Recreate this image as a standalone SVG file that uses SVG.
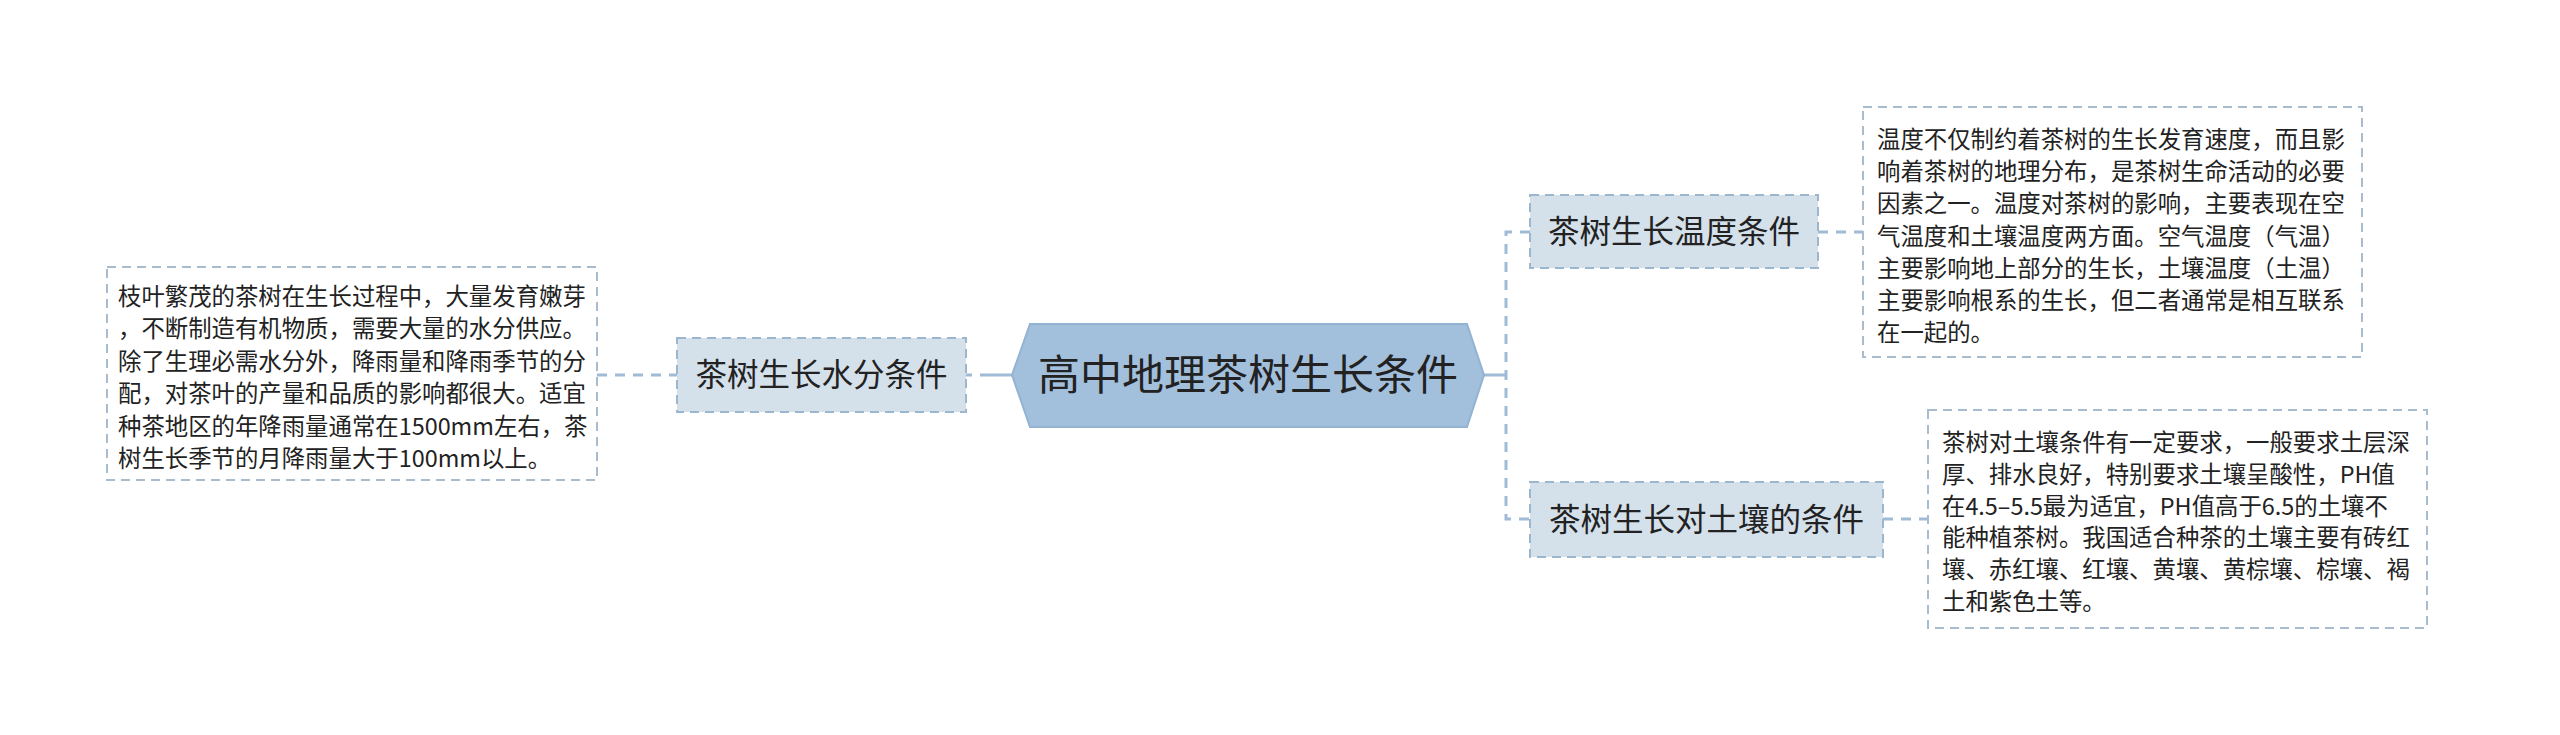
<svg xmlns="http://www.w3.org/2000/svg" width="2560" height="735" viewBox="0 0 2560 735">
<style>
text{font-family:"Noto Sans CJK SC","Noto Sans",sans-serif;fill:#222}
.root{fill:#a2bfdc;stroke:#93b3d3;stroke-width:2}
.sub{fill:#d4e0ea;stroke:#9cb6ce;stroke-width:2;stroke-dasharray:9 6}
.box{fill:#ffffff;stroke:#a9bccd;stroke-width:2;stroke-dasharray:9 6}
.c{fill:none;stroke:#9fbbd6;stroke-width:3}
.cd{fill:none;stroke:#9fbbd6;stroke-width:3;stroke-dasharray:10 8}
.t23{font-size:23.4px}
.t31{font-size:31.5px}
</style>
<rect width="2560" height="735" fill="#ffffff"/>
<g id="connectors">
<path class="c" d="M966 375 L972 375 M980 375 L1012 375"/>
<path class="cd" d="M597 375 L677 375"/>
<path class="c" d="M1484 375 L1506 375"/>
<path class="cd" d="M1530 232 L1506 232 L1506 519 L1530 519"/>
<path class="cd" d="M1818 232 L1863 232"/>
<path class="cd" d="M1883 519 L1928 519"/>
</g>
<g id="root">
<polygon class="root" points="1012,375 1030,324 1467,324 1484,375 1467,427 1030,427"/>
<text x="1248" y="390" font-size="42" text-anchor="middle">高中地理茶树生长条件</text>
</g>
<g id="water">
<rect class="sub" x="677" y="338" width="289" height="74"/>
<text class="t31" x="821.5" y="386" text-anchor="middle">茶树生长水分条件</text>
</g>
<g id="water-text">
<rect class="box" x="107" y="267" width="490" height="213"/>
<text class="t23" x="118" y="305">枝叶繁茂的茶树在生长过程中，大量发育嫩芽</text>
<text class="t23" x="118" y="337.4">，不断制造有机物质，需要大量的水分供应。</text>
<text class="t23" x="118" y="369.8">除了生理必需水分外，降雨量和降雨季节的分</text>
<text class="t23" x="118" y="402.2">配，对茶叶的产量和品质的影响都很大。适宜</text>
<text class="t23" x="118" y="434.6">种茶地区的年降雨量通常在1500mm左右，茶</text>
<text class="t23" x="118" y="467">树生长季节的月降雨量大于100mm以上。</text>
</g>
<g id="temp">
<rect class="sub" x="1530" y="195" width="288" height="73"/>
<text class="t31" x="1674" y="242.5" text-anchor="middle">茶树生长温度条件</text>
</g>
<g id="temp-text">
<rect class="box" x="1863" y="107" width="499" height="250"/>
<text class="t23" x="1877" y="148">温度不仅制约着茶树的生长发育速度，而且影</text>
<text class="t23" x="1877" y="180.2">响着茶树的地理分布，是茶树生命活动的必要</text>
<text class="t23" x="1877" y="212.4">因素之一。温度对茶树的影响，主要表现在空</text>
<text class="t23" x="1877" y="244.6">气温度和土壤温度两方面。空气温度（气温）</text>
<text class="t23" x="1877" y="276.8">主要影响地上部分的生长，土壤温度（土温）</text>
<text class="t23" x="1877" y="309">主要影响根系的生长，但二者通常是相互联系</text>
<text class="t23" x="1877" y="341.2">在一起的。</text>
</g>
<g id="soil">
<rect class="sub" x="1530" y="482" width="353" height="75"/>
<text class="t31" x="1706.5" y="530.5" text-anchor="middle">茶树生长对土壤的条件</text>
</g>
<g id="soil-text">
<rect class="box" x="1928" y="410" width="499" height="218"/>
<text class="t23" x="1942" y="451">茶树对土壤条件有一定要求，一般要求土层深</text>
<text class="t23" x="1942" y="482.8">厚、排水良好，特别要求土壤呈酸性，PH值</text>
<text class="t23" x="1942" y="514.6">在4.5–5.5最为适宜，PH值高于6.5的土壤不</text>
<text class="t23" x="1942" y="546.4">能种植茶树。我国适合种茶的土壤主要有砖红</text>
<text class="t23" x="1942" y="578.2">壤、赤红壤、红壤、黄壤、黄棕壤、棕壤、褐</text>
<text class="t23" x="1942" y="610">土和紫色土等。</text>
</g>
</svg>
